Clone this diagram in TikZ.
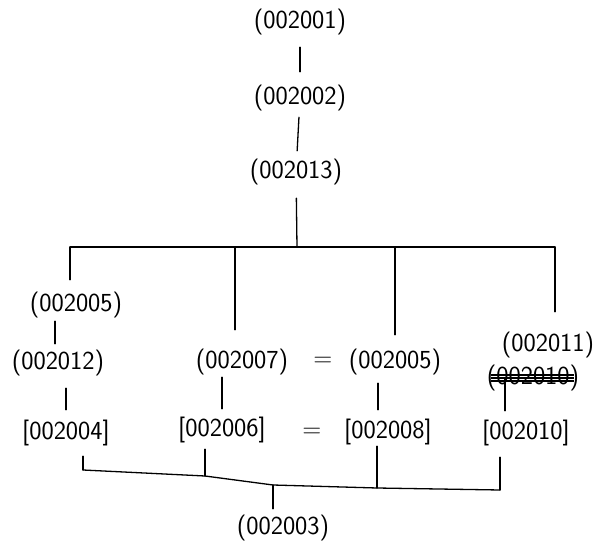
\documentclass[tikz,border=0pt]{standalone}
\usetikzlibrary{positioning}
\begin{document}
\begin{tikzpicture}[x=1pt,y=-1pt,
    rec/.style={font=\sffamily\fontsize{26}{30}\selectfont,inner sep=1pt},
    link/.style={line width=1.3pt,line cap=round}]
\useasboundingbox (0,0) rectangle (595,553);

% top chain
\node[rec] (r1) at (300,22) {(002001)};
\node[rec] (r2) at (300,98) {(002002)};
\node[rec] (r13) at (296,172) {(002013)};
\draw[link,shorten <=11pt,shorten >=12pt] (r1) -- (r2);
\draw[link,shorten <=5pt,shorten >=7pt] (r2) -- (r13);

% upper bus
\coordinate (jt) at (297,247);
\coordinate (j1) at (70,247);
\coordinate (j2) at (235,247);
\coordinate (j3) at (395,247);
\coordinate (j4) at (555,247);
\draw[link,shorten <=12pt] (r13) -- (jt);
\draw[link] (j1) -- (j4);

% middle row
\node[rec] (a5) at (76,305) {(002005)};
\node[rec] (a12) at (58,363) {(002012)};
\node[rec] (a7) at (242,362) {(002007)};
\node[rec] (eq1) at (323,362) {=};
\node[rec] (b5) at (395,362) {(002005)};
\node[rec] (c11) at (548,345) {(002011)};
\node[rec] (x10) at (533,378) {(002010)};
\foreach \dy in {-3,0,3}
  \draw[line width=2.2pt] ([xshift=5pt,yshift=\dy pt]x10.west) -- ([xshift=-6pt,yshift=\dy pt]x10.east);

\draw[link,shorten >=11pt] (j1) -- (j1 |- a5.north);
\draw[link,shorten >=18pt] (j2) -- (j2 |- a7.north);
\draw[link,shorten >=13pt] (j3) -- (j3 |- b5.north);
\draw[link,shorten >=19pt] (j4) -- (j4 |- c11.north);

% lower row
\node[rec] (q4) at (66,433) {[002004]};
\node[rec] (q6) at (222,430) {[002006]};
\node[rec] (eq2) at (312,433) {=};
\node[rec] (q8) at (388,432) {[002008]};
\node[rec] (q10) at (526,433) {[002010]};

\draw[link,shorten <=2pt,shorten >=5pt] ([xshift=-3pt]a5.south -| a12) -- ([xshift=-3pt]a12.north);
\draw[link,shorten <=11pt,shorten >=9pt] (a12.south -| q4) -- (q4.north);
\draw[link,shorten <=1pt,shorten >=7pt] (a7.south -| q6) -- (q6.north);
\draw[link,shorten <=7pt,shorten >=8pt] ([xshift=-10pt]q8.north |- b5.south) -- ([xshift=-10pt]q8.north);
\draw[link,shorten >=8pt] ([xshift=-28pt]x10.center) -- ([xshift=-21pt]q10.north);

% lower bus
\coordinate (k1) at (83,470);
\coordinate (k2) at (205,476);
\coordinate (kt) at (273,485);
\coordinate (k3) at (377,488);
\coordinate (k4) at (500,490);
\node[rec] (r3) at (283,528) {(002003)};
\draw[link] (k1) -- (k2) -- (kt) -- (k3) -- (k4);
\draw[link,shorten <=9pt] (q4.south -| k1) -- (k1);
\draw[link,shorten <=5pt] (q6.south -| k2) -- (k2);
\draw[link] (q8.south -| k3) -- (k3);
\draw[link,shorten <=10pt] (q10.south -| k4) -- (k4);
\draw[link,shorten >=5pt] (kt) -- (kt |- r3.north);

\end{tikzpicture}
\end{document}
